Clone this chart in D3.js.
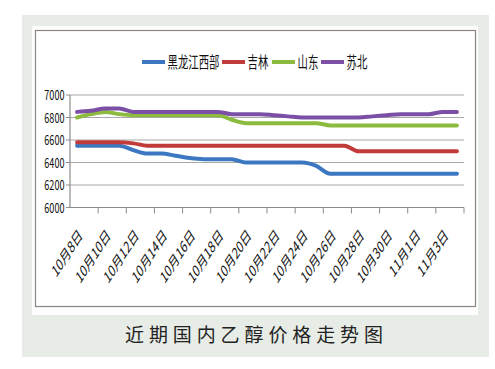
<!DOCTYPE html>
<html>
<head>
<meta charset="utf-8">
<script src="https://cdn.jsdelivr.net/npm/d3@7"></script>
<style>
  body { margin: 0; background: #fff; }
  text { font-family: "Noto Sans CJK SC", "DejaVu Sans", sans-serif; }
</style>
</head>
<body>
<div id="chart"></div>
<script>
// Dates (one point per day)
const dates = [
  "10月8日", "10月9日", "10月10日", "10月11日", "10月12日", "10月13日", "10月14日",
  "10月15日", "10月16日", "10月17日", "10月18日", "10月19日", "10月20日", "10月21日",
  "10月22日", "10月23日", "10月24日", "10月25日", "10月26日", "10月27日", "10月28日",
  "10月29日", "10月30日", "10月31日", "11月1日", "11月2日", "11月3日", "11月4日"
];

const heilongjiang = [6550, 6550, 6550, 6550, 6510, 6480, 6480, 6460, 6440, 6430, 6430, 6430, 6400, 6400,
  6400, 6400, 6400, 6370, 6300, 6300, 6300, 6300, 6300, 6300, 6300, 6300, 6300, 6300];
const jilin = [6580, 6580, 6580, 6580, 6570, 6550, 6550, 6550, 6550, 6550, 6550, 6550, 6550, 6550,
  6550, 6550, 6550, 6550, 6550, 6550, 6500, 6500, 6500, 6500, 6500, 6500, 6500, 6500];
const shandong = [6800, 6830, 6850, 6830, 6820, 6820, 6820, 6820, 6820, 6820, 6820, 6780, 6750, 6750,
  6750, 6750, 6750, 6750, 6730, 6730, 6730, 6730, 6730, 6730, 6730, 6730, 6730, 6730];
const subei = [6850, 6860, 6880, 6880, 6850, 6850, 6850, 6850, 6850, 6850, 6850, 6830, 6830, 6830,
  6820, 6810, 6800, 6800, 6800, 6800, 6800, 6810, 6820, 6830, 6830, 6830, 6850, 6850];

const seriesNames = ["黑龙江西部", "吉林", "山东", "苏北"];
const seriesColors = ["#3b78c1", "#c13b3b", "#8dbb3f", "#7b4fa6"];
const yTicks = [6000, 6200, 6400, 6600, 6800, 7000];

const series = [heilongjiang, jilin, shandong, subei].map((v, i) => ({
  name: seriesNames[i], color: seriesColors[i], values: v
}));

// the chart text looks squeezed sideways in the picture
const squeeze = 0.65;

const W = 495, H = 369;
const svg = d3.select("#chart").append("svg")
  .attr("width", W).attr("height", H);

// panel background
svg.append("rect").attr("x", 22).attr("y", 15).attr("width", 467).attr("height", 342)
  .attr("fill", "#e8ece6");
svg.append("rect").attr("x", 32).attr("y", 26).attr("width", 446).attr("height", 289)
  .attr("fill", "#fdfdfd");
svg.append("rect").attr("x", 35.5).attr("y", 30.5).attr("width", 440).attr("height", 276)
  .attr("fill", "#fff").attr("stroke", "#8a8580").attr("stroke-width", 1.2);

// scales
const x = d3.scaleBand().domain(dates).range([70, 464]).padding(0);
const y = d3.scaleLinear().domain([6000, 7000]).range([207.5, 95]);

// gridlines
svg.append("g").selectAll("line").data(yTicks.slice(1)).join("line")
  .attr("x1", 70).attr("x2", 464)
  .attr("y1", d => y(d)).attr("y2", d => y(d))
  .attr("stroke", "#a8a8a8").attr("stroke-width", 1.2);

// y axis
svg.append("line").attr("x1", 70).attr("x2", 70).attr("y1", y(7000)).attr("y2", y(6000))
  .attr("stroke", "#8c8c8c").attr("stroke-width", 1.2);
svg.append("g").selectAll("line").data(yTicks).join("line")
  .attr("x1", 66).attr("x2", 70)
  .attr("y1", d => y(d)).attr("y2", d => y(d))
  .attr("stroke", "#8c8c8c");
svg.append("g").selectAll("text").data(yTicks).join("text")
  .attr("transform", d => `translate(64.5,${y(d)}) scale(${squeeze},1)`)
  .attr("dy", "0.36em")
  .attr("text-anchor", "end").attr("font-size", 14)
  .attr("fill", "#111").text(d => d);

// x axis
svg.append("line").attr("x1", 70).attr("x2", 464).attr("y1", y(6000)).attr("y2", y(6000))
  .attr("stroke", "#8c8c8c").attr("stroke-width", 1.2);
const groupStarts = dates.filter((d, i) => i % 2 === 0);
const tickX = groupStarts.map(d => x(d) + 2 * x.step());
svg.append("g").selectAll("line").data(tickX).join("line")
  .attr("x1", d => d).attr("x2", d => d)
  .attr("y1", y(6000)).attr("y2", y(6000) + 6)
  .attr("stroke", "#8c8c8c");
svg.append("g").selectAll("text").data(groupStarts).join("text")
  .attr("transform", d => `translate(${x(d) + x.step() - 1},${y(6000) + 29}) scale(${squeeze},1) rotate(-45)`)
  .attr("text-anchor", "end").attr("font-size", 16)
  .attr("fill", "#111").text(d => d);

// lines
const line = d3.line()
  .x((d, i) => x(dates[i]) + x.bandwidth() / 2)
  .y(d => y(d))
  .curve(d3.curveMonotoneX);
svg.append("g").selectAll("path").data(series).join("path")
  .attr("d", d => line(d.values))
  .attr("fill", "none").attr("stroke", d => d.color)
  .attr("stroke-width", 4).attr("stroke-linejoin", "round").attr("stroke-linecap", "round");

// legend
const legendX = [142, 222, 272, 321];
const lg = svg.append("g").selectAll("g").data(series).join("g")
  .attr("transform", (d, i) => `translate(${legendX[i]},62)`);
lg.append("line").attr("x1", 0).attr("x2", 23).attr("y1", 0).attr("y2", 0)
  .attr("stroke", d => d.color).attr("stroke-width", 4);
lg.append("text")
  .attr("transform", `translate(25.5,0) scale(${squeeze},1)`)
  .attr("dy", "0.36em")
  .attr("font-size", 16).attr("fill", "#111")
  .text(d => d.name);

// caption
svg.append("text").attr("x", 125).attr("y", 342)
  .attr("font-size", 19).attr("fill", "#222")
  .attr("textLength", 258).attr("lengthAdjust", "spacing")
  .text("近期国内乙醇价格走势图");
</script>
</body>
</html>
